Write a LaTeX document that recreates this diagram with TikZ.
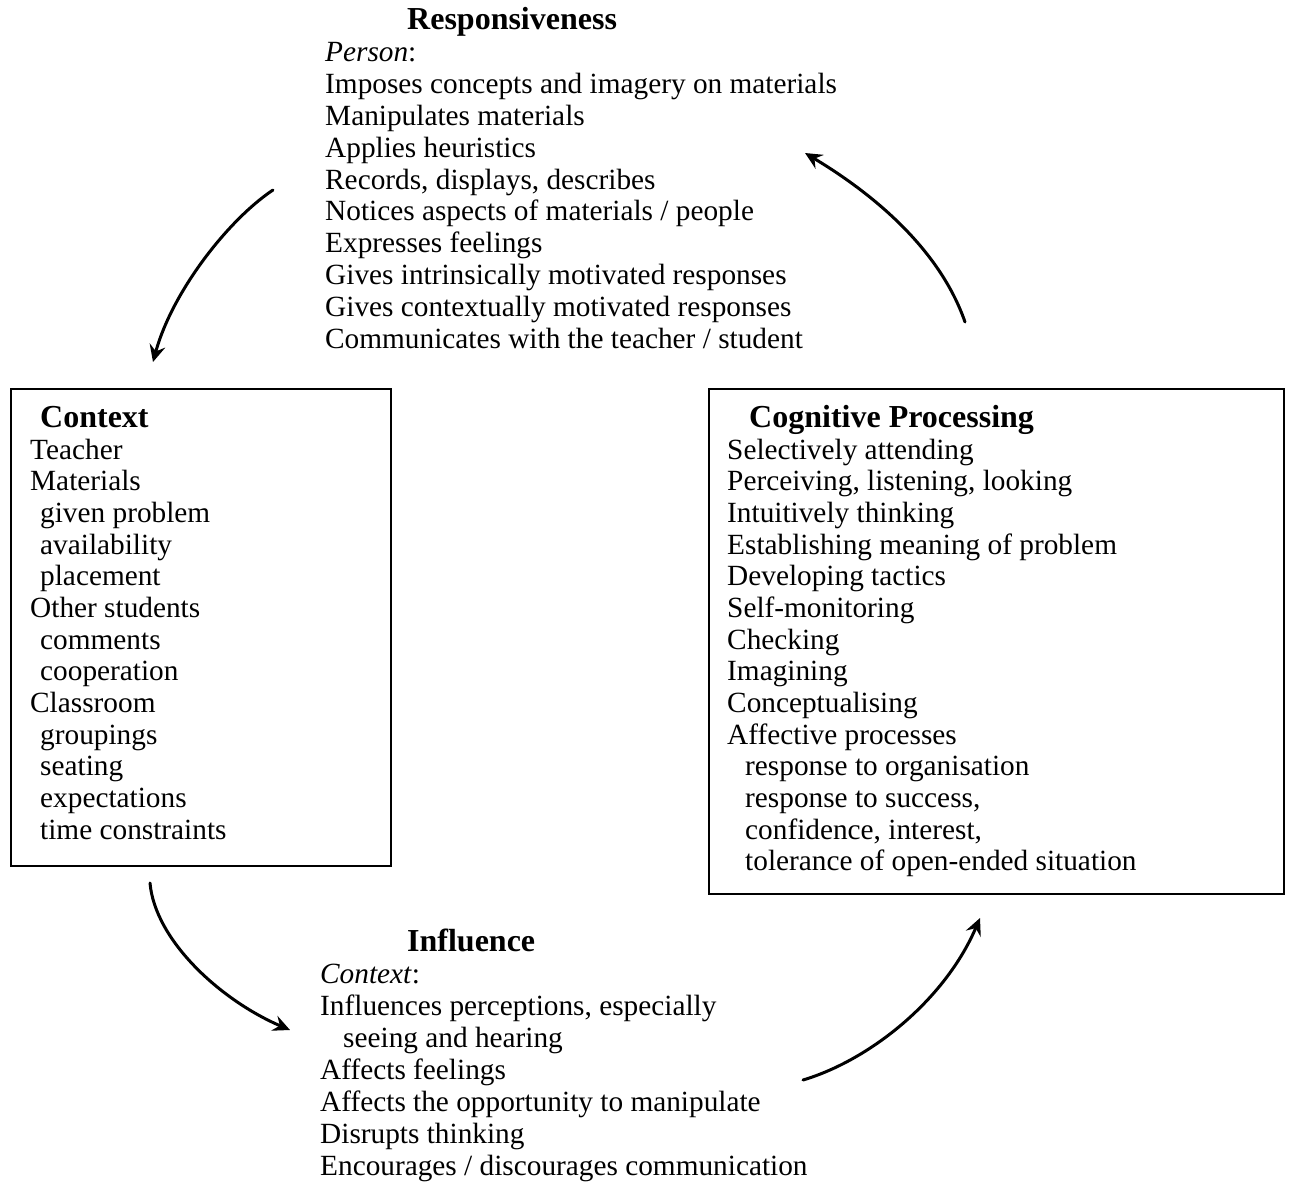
\documentclass[tikz,border=0pt]{standalone}
\usepackage{fontspec}
\setmainfont{Liberation Serif}
\usetikzlibrary{arrows.meta}
\begin{document}
\begin{tikzpicture}[x=1pt,y=-1pt,
 txt/.style={anchor=base west, inner sep=0pt, font=\fontsize{29.3}{31.7}\selectfont},
 ttl/.style={anchor=base west, inner sep=0pt, font=\fontsize{32}{34}\selectfont\bfseries},
 frame/.style={draw, line width=1.6pt, inner sep=0pt, anchor=north west},
 flow/.style={line width=3pt, line cap=round, -{Stealth[length=17pt,width=16pt,inset=6pt]}}]
\useasboundingbox[fill=white] (0,0) rectangle (1290,1182);

% boxes
\node[frame, minimum width=380pt, minimum height=477pt] (ctxbox) at (10,388) {};
\node[frame, minimum width=575pt, minimum height=505pt] (cogbox) at (708,388) {};

% Responsiveness
\node[ttl] (resptitle) at (407,30) {Responsiveness};
\node[txt] (person) at (325,62) {\textit{Person}:};
\foreach \t [count=\i from 0] in {Imposes concepts and imagery on materials,
  Manipulates materials, Applies heuristics, {Records, displays, describes},
  Notices aspects of materials / people, Expresses feelings,
  Gives intrinsically motivated responses, Gives contextually motivated responses,
  Communicates with the teacher / student}
  \node[txt] (r\i) at (325,{94+\i*31.75}) {\t};

% Context
\node[ttl] (ctxtitle) at (40,427) {Context};
\foreach \d/\t [count=\i from 0] in {30/Teacher,30/Materials,40/given problem,
  40/availability,40/placement,30/Other students,40/comments,40/cooperation,
  30/Classroom,40/groupings,40/seating,40/expectations,40/time constraints}
  \node[txt] (c\i) at (\d,{459+\i*31.67}) {\t};

% Cognitive Processing
\node[ttl] (cogtitle) at (749,427) {Cognitive Processing};
\foreach \d/\t [count=\i from 0] in {727/Selectively attending,
  727/{Perceiving, listening, looking},727/Intuitively thinking,
  727/Establishing meaning of problem,727/Developing tactics,727/Self-monitoring,
  727/Checking,727/Imagining,727/Conceptualising,727/Affective processes,
  745/response to organisation,745/{response to success,},
  745/{confidence, interest,},745/tolerance of open-ended situation}
  \node[txt] (g\i) at (\d,{459+\i*31.67}) {\t};

% Influence
\node[ttl] (inftitle) at (407,951) {Influence};
\node[txt] (ctxlabel) at (320,983) {\textit{Context}:};
\node[txt] (i0) at (320,1015) {Influences perceptions, especially};
\node[txt] (i1) at (343,1047) {seeing and hearing};
\node[txt] (i2) at (320,1079) {Affects feelings};
\node[txt] (i3) at (320,1111) {Affects the opportunity to manipulate};
\node[txt] (i4) at (320,1143) {Disrupts thinking};
\node[txt] (i5) at (320,1175) {Encourages / discourages communication};

% arrows
\coordinate (a1s) at (273,190); \coordinate (a1e) at (153,362);
\coordinate (a2s) at (965,322); \coordinate (a2e) at (805,153);
\coordinate (a3s) at (150,883); \coordinate (a3e) at (290,1030);
\coordinate (a4s) at (803,1080); \coordinate (a4e) at (980,918);
\draw[flow] (a1s) .. controls (228,220) and (172,292) .. (a1e);
\draw[flow] (a2s) .. controls (940,250) and (875,195) .. (a2e);
\draw[flow] (a3s) .. controls (155,940) and (220,1000) .. (a3e);
\draw[flow] (a4s) .. controls (870,1060) and (945,1000) .. (a4e);
\end{tikzpicture}
\end{document}
